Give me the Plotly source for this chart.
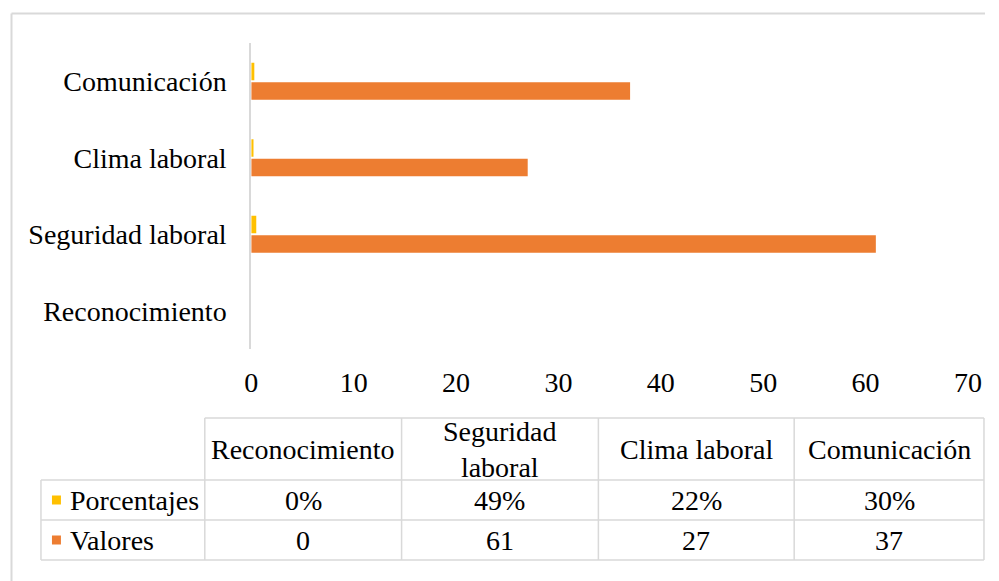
import plotly.graph_objects as go

categories = ["Reconocimiento", "Seguridad laboral", "Clima laboral", "Comunicación"]
header_labels = ["Reconocimiento", "Seguridad<br>laboral", "Clima laboral", "Comunicación"]
porcentajes = [0.0, 0.49, 0.22, 0.30]
valores = [0, 61, 27, 37]
x_ticks = [0, 10, 20, 30, 40, 50, 60, 70]

ORANGE = "#ED7D31"
YELLOW = "#FFC000"
GRID = "#d9d9d9"
FONT = "'Liberation Serif', 'Times New Roman', serif"
FS = 28

W, H = 999, 581
# horizontal placement compensates the small horizontal squeeze seen in the rendered picture
def px(x):
    return min(((x - 6) / 0.98) / W, 1.0)
def py(y):
    return 1 - y / H

fig = go.Figure()
# Valores first so it sits below Porcentajes in each group
fig.add_trace(go.Bar(y=categories, x=valores, orientation="h", name="Valores",
                     marker=dict(color=ORANGE, line=dict(width=0))))
fig.add_trace(go.Bar(y=categories, x=porcentajes, orientation="h", name="Porcentajes",
                     marker=dict(color=YELLOW, line=dict(width=0))))

shapes = []
annotations = []

# outer chart border (left & top visible)
shapes.append(dict(type="line", xref="paper", yref="paper", x0=px(10.5), x1=1.0, y0=py(13.5), y1=py(13.5),
                   line=dict(color=GRID, width=2)))
shapes.append(dict(type="line", xref="paper", yref="paper", x0=px(10.5), x1=px(10.5), y0=py(13.5), y1=py(581),
                   line=dict(color=GRID, width=2)))

# data table
col_x = [204, 401, 598, 794, 984]
row_y = [418, 480, 520, 560]
lc = dict(color=GRID, width=1.5)
shapes.append(dict(type="line", xref="paper", yref="paper", x0=px(col_x[0]), x1=px(col_x[-1]), y0=py(row_y[0]), y1=py(row_y[0]), line=lc))
for yy in row_y[1:]:
    shapes.append(dict(type="line", xref="paper", yref="paper", x0=px(40), x1=px(col_x[-1]), y0=py(yy), y1=py(yy), line=lc))
shapes.append(dict(type="line", xref="paper", yref="paper", x0=px(40), x1=px(40), y0=py(row_y[1]), y1=py(row_y[3]), line=lc))
for xx in col_x:
    shapes.append(dict(type="line", xref="paper", yref="paper", x0=px(xx), x1=px(xx), y0=py(row_y[0]), y1=py(row_y[3]), line=lc))

tf = dict(family=FONT, size=FS, color="#000")
for i, lab in enumerate(header_labels):
    cx = (col_x[i] + col_x[i + 1]) / 2
    annotations.append(dict(text=lab, xref="paper", yref="paper", x=px(cx), y=py((row_y[0] + row_y[1]) / 2),
                            showarrow=False, xanchor="center", yanchor="middle", font=tf, align="center"))
rows = [("Porcentajes", YELLOW, [f"{round(v*100)}%" for v in porcentajes]),
        ("Valores", ORANGE, [str(v) for v in valores])]
for r, (name, color, vals) in enumerate(rows):
    y0, y1 = row_y[r + 1], row_y[r + 2]
    cy = (y0 + y1) / 2
    shapes.append(dict(type="rect", xref="paper", yref="paper", x0=px(51), x1=px(60), y0=py(cy + 4.5), y1=py(cy - 4.5),
                       fillcolor=color, line=dict(width=0)))
    annotations.append(dict(text=name, xref="paper", yref="paper", x=px(67), y=py(cy), showarrow=False,
                            xanchor="left", yanchor="middle", font=tf))
    for i, v in enumerate(vals):
        cx = (col_x[i] + col_x[i + 1]) / 2
        annotations.append(dict(text=v, xref="paper", yref="paper", x=px(cx), y=py(cy), showarrow=False,
                                xanchor="center", yanchor="middle", font=tf))

fig.update_layout(
    width=W, height=H, autosize=False,
    margin=dict(l=0, r=0, t=0, b=0),
    paper_bgcolor="white", plot_bgcolor="white",
    barmode="group", bargap=0.49, bargroupgap=0.1,
    showlegend=False,
    font=tf,
    xaxis=dict(domain=[px(250.5), px(968)], range=[0, 70], tickvals=x_ticks, showgrid=False, zeroline=False,
               showline=False, ticks="", ticklabelstandoff=14, tickfont=tf),
    yaxis=dict(domain=[py(349), py(43)], categoryorder="array", categoryarray=categories,
               showgrid=False, zeroline=False, showline=True, linecolor=GRID, linewidth=2, ticks="",
               ticklabelstandoff=17, tickfont=tf),
    shapes=shapes, annotations=annotations,
)

fig.write_html("out.html")
